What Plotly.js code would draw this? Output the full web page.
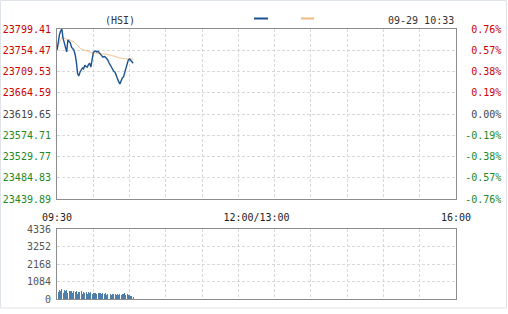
<!DOCTYPE html>
<html>
<head>
<meta charset="utf-8">
<script src="https://cdn.plot.ly/plotly-3.0.1.min.js"></script>
<style>html,body{margin:0;padding:0;background:#fff;}#chart{width:508px;height:314px;}</style>
</head>
<body>
<div id="chart"></div>
<script>
// ---- data ----
const symbol = "(HSI)";
const stamp = "09-29 10:33";
const timeTickLabels = ["09:30", "12:00/13:00", "16:00"];
const timeTickMinutes = [0, 165, 330];
const gridMinutes = [30, 60, 90, 120, 150, 180, 210, 240, 270, 300];
const sessionMinutes = 330;

const priceTicks = [23439.89, 23484.83, 23529.77, 23574.71, 23619.65, 23664.59, 23709.53, 23754.47, 23799.41];
const priceTickLabels = ["23439.89", "23484.83", "23529.77", "23574.71", "23619.65", "23664.59", "23709.53", "23754.47", "23799.41"];
const pctTicks = [-0.76, -0.57, -0.38, -0.19, 0, 0.19, 0.38, 0.57, 0.76];
const pctTickLabels = ["-0.76%", "-0.57%", "-0.38%", "-0.19%", "0.00%", "0.19%", "0.38%", "0.57%", "0.76%"];
const volTicks = [0, 1084, 2168, 3252, 4336];
const volTickLabels = ["0", "1084", "2168", "3252", "4336"];

const price = [23755, 23772, 23787, 23795, 23799, 23780, 23768, 23758, 23751, 23776,
  23774, 23770, 23761, 23758, 23755, 23745, 23730, 23705, 23700, 23708,
  23712, 23717, 23715, 23723, 23720, 23719, 23724, 23727, 23719, 23735,
  23749, 23752, 23753, 23751, 23752, 23749, 23746, 23742, 23740, 23741,
  23740, 23737, 23734, 23728, 23723, 23718, 23713, 23710, 23708, 23700,
  23692, 23688, 23683, 23692, 23696, 23698, 23708, 23719, 23730, 23734,
  23736, 23734, 23730, 23727];
const avgPrice = [23755, 23763, 23771, 23777, 23781, 23781, 23780, 23779, 23777, 23777,
  23777, 23776, 23775, 23774, 23772, 23770, 23767, 23764, 23761, 23759,
  23757, 23756, 23755, 23754, 23753, 23752, 23751, 23750, 23749, 23749,
  23749, 23749, 23749, 23748, 23748, 23748, 23748, 23747, 23747, 23747,
  23746, 23746, 23745, 23745, 23744, 23744, 23743, 23742, 23742, 23741,
  23740, 23739, 23738, 23738, 23737, 23737, 23737, 23736, 23736, 23736,
  23736, 23736, 23736, 23736];
const volume = [620, 450, 580, 520, 600, 400, 560, 480, 540, 380,
  500, 470, 520, 360, 480, 430, 500, 340, 460, 420,
  470, 330, 440, 400, 430, 320, 410, 380, 420, 300,
  400, 370, 390, 300, 380, 350, 380, 280, 360, 330,
  350, 270, 330, 310, 340, 260, 320, 290, 300, 250,
  290, 270, 310, 240, 280, 300, 380, 260, 290, 250,
  240, 200, 180, 150];

// ---- styling ----
const RED = "#cc0000", GREEN = "#228822", GRAY = "#444444";
const FONT = "DejaVu Sans Mono, Liberation Mono, monospace";
const W = 508, H = 314;
const px = v => v / W;
const py = v => 1 - v / H;

function colored(labels, values, mid) {
  return labels.map((t, i) => {
    const c = values[i] > mid ? RED : (values[i] < mid ? GREEN : GRAY);
    return '<span style="color:' + c + '">' + t + '</span>';
  });
}

const minutes = price.map((_, i) => i);

const traces = [
  {type: "bar", x: minutes, y: volume, xaxis: "x2", yaxis: "y3",
   marker: {color: "#4f7fa8", line: {width: 0}}, width: 0.8, hoverinfo: "skip", showlegend: false},
  {type: "scatter", mode: "lines", x: minutes, y: avgPrice, xaxis: "x", yaxis: "y",
   line: {color: "#f2c28e", width: 1}, hoverinfo: "skip", showlegend: false},
  {type: "scatter", mode: "lines", x: minutes, y: price, xaxis: "x", yaxis: "y",
   line: {color: "#1b5290", width: 1.4}, hoverinfo: "skip", showlegend: false},
  {type: "scatter", mode: "lines", x: [0], y: [0], xaxis: "x", yaxis: "y2",
   line: {width: 0}, hoverinfo: "skip", showlegend: false}
];

const gridStyle = {gridcolor: "#d8d8d8", griddash: "3px,2px", gridwidth: 1};
const domX = [px(57), px(456)];

const layout = {
  width: W, height: H,
  margin: {l: 0, r: 0, t: 0, b: 0, pad: 0},
  paper_bgcolor: "#ffffff", plot_bgcolor: "#ffffff",
  font: {family: FONT, size: 10, color: "#333"},
  showlegend: false,
  bargap: 0,
  xaxis: {domain: domX, anchor: "y", range: [0, sessionMinutes], fixedrange: true,
    tickmode: "array", tickvals: timeTickMinutes, ticktext: timeTickLabels,
    ticks: "outside", ticklen: 9, tickcolor: "rgba(0,0,0,0)",
    tickfont: {family: FONT, size: 10, color: "#222"},
    showgrid: false, zeroline: false, showline: true, mirror: true, linecolor: "#8c8c8c", linewidth: 1,
    minor: Object.assign({tickmode: "array", tickvals: gridMinutes, showgrid: true, ticks: ""}, gridStyle)},
  yaxis: Object.assign({domain: [py(199), py(29)], anchor: "x", range: [priceTicks[0], priceTicks[priceTicks.length - 1]],
    fixedrange: true, tickmode: "array", tickvals: priceTicks, ticktext: colored(priceTickLabels, priceTicks, priceTicks[4]),
    ticks: "outside", ticklen: 3, tickcolor: "rgba(0,0,0,0)",
    showgrid: true, zeroline: false, showline: true, mirror: true, linecolor: "#8c8c8c", linewidth: 1}, gridStyle),
  yaxis2: {overlaying: "y", anchor: "free", position: 0.987, side: "left", range: [pctTicks[0], pctTicks[pctTicks.length - 1]],
    fixedrange: true, tickmode: "array", tickvals: pctTicks, ticktext: colored(pctTickLabels, pctTicks, 0),
    ticks: "", showgrid: false, zeroline: false, showline: false},
  xaxis2: {domain: domX, anchor: "y3", range: [0, sessionMinutes], fixedrange: true,
    tickmode: "array", tickvals: gridMinutes, showticklabels: false, ticks: "",
    showgrid: true, gridcolor: "#d8d8d8", griddash: "3px,2px",
    zeroline: false, showline: true, mirror: true, linecolor: "#8c8c8c", linewidth: 1},
  yaxis3: Object.assign({domain: [py(299), py(229)], anchor: "x2", range: [volTicks[0], volTicks[volTicks.length - 1]],
    fixedrange: true, tickmode: "array", tickvals: volTicks, ticktext: volTickLabels,
    tickfont: {family: FONT, size: 10, color: "#555"},
    ticks: "outside", ticklen: 3, tickcolor: "rgba(0,0,0,0)",
    showgrid: true, zeroline: false, showline: true, mirror: true, linecolor: "#8c8c8c", linewidth: 1}, gridStyle),
  annotations: [
    {text: symbol, xref: "paper", yref: "paper", x: px(120), y: py(21), xanchor: "center", yanchor: "middle",
     showarrow: false, font: {family: FONT, size: 10, color: "#333"}},
    {text: stamp, xref: "paper", yref: "paper", x: px(456), y: py(21), xanchor: "right", yanchor: "middle",
     showarrow: false, font: {family: FONT, size: 10, color: "#333"}}
  ],
  shapes: [
    {type: "line", xref: "paper", yref: "paper", x0: px(254), x1: px(268), y0: py(18.5), y1: py(18.5),
     line: {color: "#1b5290", width: 2}},
    {type: "line", xref: "paper", yref: "paper", x0: px(301), x1: px(314), y0: py(18.5), y1: py(18.5),
     line: {color: "#f2b97a", width: 2}},
    {type: "rect", xref: "paper", yref: "paper", x0: px(0.5), x1: px(506.5), y0: py(308), y1: py(0.5),
     line: {color: "#dfe3ea", width: 1}, layer: "below"}
  ]
};

Plotly.newPlot("chart", traces, layout, {displayModeBar: false, staticPlot: true});
</script>
</body>
</html>
